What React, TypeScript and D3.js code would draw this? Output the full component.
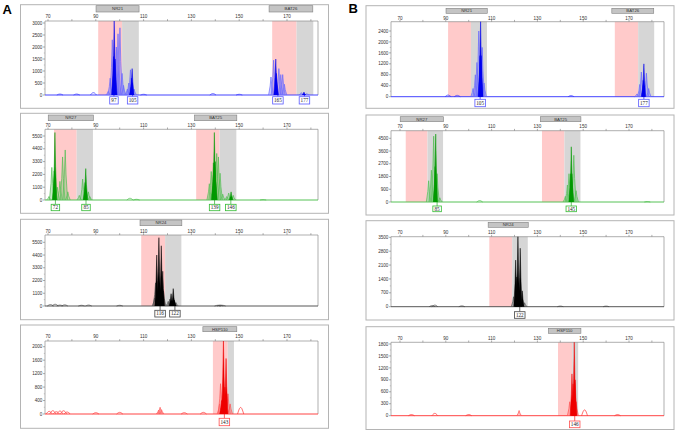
import React from "react";
import * as d3 from "d3";

type P = [number, number];
type Marker = [string, number, number, number, number, number]; // name, labelStart, labelEnd, pinkStart, pinkEnd, grayEnd
type Call = [number, string];

// ---------- shared axis data ----------
const X_TICKS = [70, 80, 90, 100, 110, 120, 130, 140, 150, 160, 170, 180];
const X_TICK_LABELS = [70, 90, 110, 130, 150, 170];

// ---------- markers (bp) ----------
const MARKERS_ROW1: Marker[] = [["NR21", 90.1, 108.1, 91, 101, 108], ["BAT26", 162.5, 180.8, 163.8, 174, 181]];
const MARKERS_ROW2: Marker[] = [["NR27", 70.1, 89, 72.5, 82, 88.8], ["BAT25", 131.3, 149, 132, 141.8, 148.8]];
const MARKERS_ROW3: Marker[] = [["NR24", 108.5, 126, 109, 119, 125.8]];
const MARKERS_ROW4: Marker[] = [["HSP110", 134.8, 149, 139, 145.2, 147.8]];

// ---------- y ticks ----------
const Y_TICKS_A1 = [0, 500, 1000, 1500, 2000, 2500, 3000];
const Y_TICKS_A2 = [0, 1100, 2200, 3300, 4400, 5500];
const Y_TICKS_A3 = [0, 1100, 2200, 3300, 4400, 5500];
const Y_TICKS_A4 = [0, 400, 800, 1200, 1600, 2000];
const Y_TICKS_B1 = [0, 400, 800, 1200, 1600, 2000, 2400];
const Y_TICKS_B2 = [0, 900, 1800, 2700, 3600, 4500];
const Y_TICKS_B3 = [0, 700, 1400, 2100, 2800, 3500];
const Y_TICKS_B4 = [0, 300, 600, 900, 1200, 1500, 1800];

// ---------- peaks: [bp, height] ----------
const A1_LIGHT: P[] = [[95.2, 150], [96.0, 700], [96.9, 2300], [98.6, 2000], [99.3, 2550], [100.1, 2800], [101.0, 900], [101.6, 400], [103.2, 250], [103.8, 500], [104.5, 1050], [106.0, 250], [163.3, 750], [164.4, 1450], [166.6, 1100], [167.4, 850], [168.2, 850], [168.9, 450], [176.0, 100], [178.3, 60]];
const A1_DARK: P[] = [[97.4, 1600], [97.7, 3100], [98.1, 1500], [104.9, 700], [105.2, 1100], [165.3, 1500], [165.6, 900], [177.1, 120]];
const A1_NOISE: P[] = [[75, 40], [82, 40], [89, 100], [110, 30], [139, 60], [150, 30]];
const A1_CALLS: Call[] = [[97.6, "97"], [105.4, "105"], [166.2, "165"], [177.3, "177"]];

const A2_LIGHT: P[] = [[70.4, 300], [71.6, 2800], [73.9, 1100], [75.0, 1600], [76.1, 3700], [77.2, 4300], [78.3, 700], [83.1, 400], [84.5, 1800], [86.9, 700], [87.5, 300], [137.5, 1400], [138.3, 2450], [138.9, 1150], [140.6, 4000], [141.3, 3700], [142.0, 2300], [143.1, 500], [144.8, 300], [145.6, 600], [147.5, 400]];
const A2_DARK: P[] = [[72.6, 2500], [72.9, 5800], [85.5, 1500], [85.8, 2700], [139.2, 3200], [139.6, 5800], [140.0, 3300], [146.6, 700]];
const A2_NOISE: P[] = [[104.3, 150], [107, 60], [160, 30]];
const A2_CALLS: Call[] = [[73.1, "72"], [85.9, "85"], [139.7, "139"], [146.5, "146"]];

const A3_LIGHT: P[] = [[114.6, 700], [115.0, 2000], [118.3, 1300], [120.3, 400], [121.0, 600], [123.5, 300]];
const A3_DARK: P[] = [[115.5, 4400], [116.4, 5900], [117.4, 5200], [118.0, 3000], [121.5, 1060], [122.4, 1500], [122.9, 500]];
const A3_NOISE: P[] = [[71, 120], [73, 150], [75, 80], [77, 100], [84, 60], [87, 80], [100, 60], [141, 60], [142, 80], [143, 60]];
const A3_CALLS: Call[] = [[116.9, "116"], [123.1, "122"]];

const A4_LIGHT: P[] = [[116.3, 120], [116.9, 200], [117.5, 130], [141.8, 300], [142.2, 900], [145.3, 600], [146.2, 300]];
const A4_DARK: P[] = [[142.6, 400], [143.4, 2200], [144.0, 800], [144.5, 1650]];
const A4_NOISE: P[] = [[70.5, 80], [72, 100], [73.5, 70], [75, 90], [76.5, 100], [78, 60], [90, 40], [100, 50], [127, 40], [135, 50], [150.6, 200]];
const A4_CALLS: Call[] = [[143.8, "143"]];

const B1_LIGHT: P[] = [[101.9, 300], [102.9, 800], [103.6, 1250], [104.4, 2400], [105.9, 1800], [106.7, 500], [173.5, 100], [174.7, 450], [175.4, 900], [177.6, 860], [178.6, 300]];
const B1_DARK: P[] = [[104.9, 1500], [105.2, 2800], [105.5, 1500], [176.2, 600], [176.5, 1200]];
const B1_NOISE: P[] = [[91, 60], [95, 50], [144.7, 40]];
const B1_CALLS: Call[] = [[105.0, "105"], [176.5, "177"]];

const B2_LIGHT: P[] = [[82.5, 1500], [83.7, 2250], [84.7, 4650], [86.2, 2000], [87.4, 300], [142.2, 400], [143.1, 1200], [143.8, 2000], [145.9, 3300], [146.9, 800]];
const B2_DARK: P[] = [[85.3, 2500], [85.6, 4800], [144.5, 2000], [144.8, 3900], [145.1, 2000]];
const B2_NOISE: P[] = [[104.8, 100], [178, 30]];
const B2_CALLS: Call[] = [[86.2, "85"], [144.8, "145"]];

const B3_LIGHT: P[] = [[119.6, 500], [124.4, 200]];
const B3_DARK: P[] = [[120.5, 2350], [121.0, 1500], [121.5, 3600], [122.5, 2950], [123.4, 800]];
const B3_NOISE: P[] = [[84, 50], [85.2, 80], [97, 40], [140, 30], [160, 30]];
const B3_CALLS: Call[] = [[122.3, "122"]];

const B4_LIGHT: P[] = [[122, 130], [144.1, 350], [146.9, 350]];
const B4_DARK: P[] = [[145.1, 1050], [145.6, 800], [146.1, 1850], [146.5, 900]];
const B4_NOISE: P[] = [[75, 30], [85.2, 60], [100, 30], [150.6, 150], [165, 30]];
const B4_CALLS: Call[] = [[146.3, "146"]];

// ---------- styles ----------
const DYES: Record<string, { base: string; dark: string; light: string; fill: string; call: string }> = {
  blue: { base: "#3030ff", dark: "#0000ee", light: "#6868ff", fill: "rgba(120,120,255,0.4)", call: "#5a5aff" },
  green: { base: "#44bb44", dark: "#009900", light: "#55bf55", fill: "rgba(110,200,110,0.4)", call: "#33bb33" },
  black: { base: "#444444", dark: "#000000", light: "#555555", fill: "rgba(60,60,60,0.3)", call: "#444444" },
  red: { base: "#ff3030", dark: "#ee0000", light: "#ff5555", fill: "rgba(255,110,110,0.4)", call: "#ff5050" },
};

const COLS = {
  A: { x0: 45, x1: 318, r: [48, 287], boxX0: 20.5, boxX1: 328.5 },
  B: { x0: 391, x1: 664, r: [400, 629], boxX0: 366, boxX1: 674 },
};

const PANELS = [
  { id: "a1", col: COLS.A, dye: "blue", yTicks: Y_TICKS_A1, markers: MARKERS_ROW1, light: A1_LIGHT, dark: A1_DARK, noise: A1_NOISE, calls: A1_CALLS,
    lay: { boxTop: 4.7, boxBot: 108.3, markY0: 5.7, markY1: 12, tickY: 16, plotTop: 21, tickMaxY: 23, base: 95, callY0: 96.7, callY1: 104 } },
  { id: "a2", col: COLS.A, dye: "green", yTicks: Y_TICKS_A2, markers: MARKERS_ROW2, light: A2_LIGHT, dark: A2_DARK, noise: A2_NOISE, calls: A2_CALLS,
    lay: { boxTop: 113.3, boxBot: 213.3, markY0: 115, markY1: 120.7, tickY: 125, plotTop: 129.3, tickMaxY: 136, base: 200, callY0: 204.3, callY1: 210.7 } },
  { id: "a3", col: COLS.A, dye: "black", yTicks: Y_TICKS_A3, markers: MARKERS_ROW3, light: A3_LIGHT, dark: A3_DARK, noise: A3_NOISE, calls: A3_CALLS,
    lay: { boxTop: 219.3, boxBot: 319.7, markY0: 220, markY1: 225.7, tickY: 231, plotTop: 235, tickMaxY: 242.3, base: 306, callY0: 310.3, callY1: 317 } },
  { id: "a4", col: COLS.A, dye: "red", yTicks: Y_TICKS_A4, markers: MARKERS_ROW4, light: A4_LIGHT, dark: A4_DARK, noise: A4_NOISE, calls: A4_CALLS,
    lay: { boxTop: 325, boxBot: 428.3, markY0: 326.7, markY1: 331.7, tickY: 336.7, plotTop: 341, tickMaxY: 346.7, base: 414, callY0: 418.3, callY1: 425.7 } },
  { id: "b1", col: COLS.B, dye: "blue", yTicks: Y_TICKS_B1, markers: MARKERS_ROW1, light: B1_LIGHT, dark: B1_DARK, noise: B1_NOISE, calls: B1_CALLS,
    lay: { boxTop: 5.7, boxBot: 108.3, markY0: 8.3, markY1: 13.3, tickY: 18.3, plotTop: 21.7, tickMaxY: 31, base: 96.7, callY0: 99.3, callY1: 106.7 } },
  { id: "b2", col: COLS.B, dye: "green", yTicks: Y_TICKS_B2, markers: MARKERS_ROW2, light: B2_LIGHT, dark: B2_DARK, noise: B2_NOISE, calls: B2_CALLS,
    lay: { boxTop: 115, boxBot: 215, markY0: 116.7, markY1: 121.7, tickY: 126.7, plotTop: 130.7, tickMaxY: 138.3, base: 202, callY0: 206, callY1: 211.7 } },
  { id: "b3", col: COLS.B, dye: "black", yTicks: Y_TICKS_B3, markers: MARKERS_ROW3, light: B3_LIGHT, dark: B3_DARK, noise: B3_NOISE, calls: B3_CALLS,
    lay: { boxTop: 220.7, boxBot: 320, markY0: 222.3, markY1: 227.3, tickY: 232.7, plotTop: 236.7, tickMaxY: 237.3, base: 306.7, callY0: 311.7, callY1: 318.3 } },
  { id: "b4", col: COLS.B, dye: "red", yTicks: Y_TICKS_B4, markers: MARKERS_ROW4, light: B4_LIGHT, dark: B4_DARK, noise: B4_NOISE, calls: B4_CALLS,
    lay: { boxTop: 326.7, boxBot: 429.5, markY0: 328.3, markY1: 333.3, tickY: 338.3, plotTop: 342.3, tickMaxY: 344, base: 415.7, callY0: 421, callY1: 427.7 } },
];

const SANS = "Liberation Sans, Arial, sans-serif";
const SERIF = "Liberation Serif, Times New Roman, serif";

function spike(bp: number, h: number, w: number): P[] {
  return [[bp - w, 0], [bp - w * 0.35, h * 0.5], [bp, h], [bp + w * 0.35, h * 0.5], [bp + w, 0]];
}

function Panel({ p }: { p: (typeof PANELS)[number] }) {
  const { col, lay } = p;
  const dye = DYES[p.dye];
  const x = d3.scaleLinear().domain([70, 170]).range(col.r);
  const dMin = x.invert(col.x0);
  const dMax = x.invert(col.x1);
  const yTop = p.yTicks[p.yTicks.length - 1];
  const y = d3.scaleLinear().domain([0, yTop]).range([lay.base, lay.tickMaxY]);
  const line = d3.line<P>().x((d) => x(d[0])).y((d) => y(d[1]));
  const bump = d3.line<P>().x((d) => x(d[0])).y((d) => y(d[1])).curve(d3.curveBasis);
  const clipId = "clip-" + p.id;
  const step = p.yTicks[1] - p.yTicks[0];
  const minorY = p.yTicks.slice(0, -1).map((t) => t + step / 2);

  return (
    <g>
      <rect x={col.boxX0} y={lay.boxTop} width={col.boxX1 - col.boxX0} height={lay.boxBot - lay.boxTop} fill="#fff" stroke="#b4b4b4" strokeWidth={1} />
      <defs>
        <clipPath id={clipId}>
          <rect x={col.x0} y={lay.plotTop} width={col.x1 - col.x0} height={lay.base - lay.plotTop + 2} />
        </clipPath>
      </defs>
      {p.markers.map((m) => (
        <g key={m[0]}>
          <rect x={x(m[3])} y={lay.plotTop} width={x(m[4]) - x(m[3])} height={lay.base - lay.plotTop} fill="#ffcaca" />
          <rect x={x(m[4])} y={lay.plotTop} width={x(m[5]) - x(m[4])} height={lay.base - lay.plotTop} fill="#d6d6d6" />
          <rect x={x(m[1])} y={lay.markY0} width={x(m[2]) - x(m[1])} height={lay.markY1 - lay.markY0} fill="#c4c4c4" stroke="#808080" strokeWidth={0.6} />
          <text x={(x(m[1]) + x(m[2])) / 2} y={(lay.markY0 + lay.markY1) / 2 + 1.5} fontSize={4.3} fontFamily={SANS} textAnchor="middle" fill="#333">{m[0]}</text>
        </g>
      ))}
      <path d={`M${col.x0},${lay.base}V${lay.plotTop}H${col.x1}V${lay.base}`} fill="none" stroke="#8c8c8c" strokeWidth={0.7} />
      {X_TICKS.filter((t) => t >= dMin && t <= dMax).map((t) => (
        <line key={"xt" + t} x1={x(t)} x2={x(t)} y1={lay.plotTop} y2={lay.plotTop - 1.8} stroke="#777" strokeWidth={0.6} />
      ))}
      {X_TICK_LABELS.map((t) => (
        <text key={"xl" + t} x={x(t)} y={lay.tickY + 1.6} fontSize={4.6} fontFamily={SANS} textAnchor="middle" fill="#333">{t}</text>
      ))}
      {p.yTicks.map((t) => (
        <g key={"yt" + t}>
          <line x1={col.x0} x2={col.x0 - 2} y1={y(t)} y2={y(t)} stroke="#777" strokeWidth={0.6} />
          <text x={col.x0 - 2.6} y={y(t) + 1.6} fontSize={4.6} fontFamily={SANS} textAnchor="end" fill="#333">{t}</text>
        </g>
      ))}
      {minorY.map((t) => (
        <line key={"ym" + t} x1={col.x0} x2={col.x0 - 1.2} y1={y(t)} y2={y(t)} stroke="#999" strokeWidth={0.5} />
      ))}
      <g clipPath={`url(#${clipId})`}>
        <line x1={col.x0} x2={col.x1} y1={y(0)} y2={y(0)} stroke={dye.base} strokeWidth={0.9} />
        {p.noise.map((n, i) => (
          <path key={"n" + i} d={bump([[n[0] - 1.3, 0], [n[0] - 0.5, n[1] * 0.9], [n[0], n[1]], [n[0] + 0.5, n[1] * 0.9], [n[0] + 1.3, 0]]) || ""} fill="none" stroke={dye.base} strokeWidth={0.7} />
        ))}
        {p.light.map((pk, i) => (
          <path key={"l" + i} d={line(spike(pk[0], pk[1], 1.0)) || ""} fill={dye.fill} stroke={dye.light} strokeWidth={0.7} />
        ))}
        {p.dark.map((pk, i) => (
          <path key={"d" + i} d={line(spike(pk[0], pk[1], 0.8)) || ""} fill={dye.dark} stroke={dye.dark} strokeWidth={0.5} />
        ))}
      </g>
      {p.calls.map((c) => {
        const cx = x(c[0]);
        const w = c[1].length > 2 ? 10.5 : 8.5;
        return (
          <g key={"c" + c[1]}>
            <line x1={cx} x2={cx} y1={lay.base} y2={lay.callY0} stroke={dye.dark} strokeWidth={0.6} />
            <rect x={cx - w / 2} y={lay.callY0} width={w} height={lay.callY1 - lay.callY0} fill="#fff" stroke={dye.call} strokeWidth={0.8} />
            <text x={cx} y={(lay.callY0 + lay.callY1) / 2 + 1.8} fontSize={5.2} fontFamily={SERIF} textAnchor="middle" fill="#222">{c[1]}</text>
          </g>
        );
      })}
    </g>
  );
}

export default function App() {
  return (
    <svg width={676} height={431} viewBox="0 0 676 431" style={{ position: "absolute", left: 0, top: 0, background: "#fff" }}>
      <rect x={0} y={0} width={676} height={431} fill="#fff" />
      {PANELS.map((p) => (
        <Panel key={p.id} p={p} />
      ))}
      <text x={2.5} y={13.5} fontSize={13} fontWeight="bold" fontFamily={SANS} fill="#000">A</text>
      <text x={348.5} y={13} fontSize={13} fontWeight="bold" fontFamily={SANS} fill="#000">B</text>
    </svg>
  );
}
